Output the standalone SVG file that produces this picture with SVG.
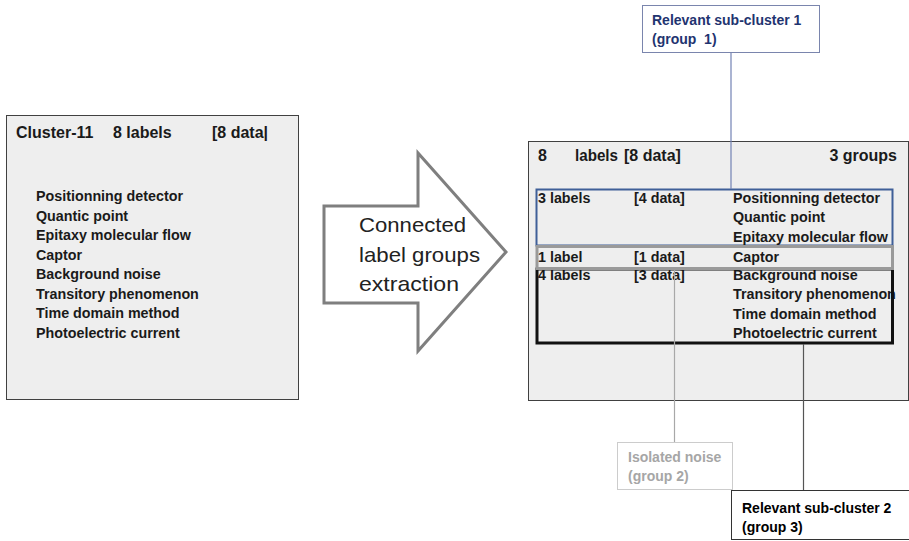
<svg xmlns="http://www.w3.org/2000/svg" width="909" height="541" viewBox="0 0 909 541">
<style>
.t{font-family:"Liberation Sans",Arial,sans-serif;font-weight:bold;font-size:14.3px;fill:#1a1a1a}
.h{font-family:"Liberation Sans",Arial,sans-serif;font-weight:bold;font-size:16px;fill:#1a1a1a}
.a{font-family:"Liberation Sans",Arial,sans-serif;font-size:21px;fill:#222}
.box{fill:#eeeeee;stroke:#404040;stroke-width:1}
</style>
<rect width="909" height="541" fill="#ffffff"/>
<g id="cluster-left">
<rect class="box" x="6.5" y="115.5" width="292" height="284"/>
<text class="h" x="16" y="138">Cluster-11</text>
<text class="h" x="113" y="138">8 labels</text>
<text class="h" x="212" y="138">[8 data|</text>
<text class="t" x="36" y="201">Positionning detector</text>
<text class="t" x="36" y="220.5">Quantic point</text>
<text class="t" x="36" y="240">Epitaxy molecular flow</text>
<text class="t" x="36" y="259.5">Captor</text>
<text class="t" x="36" y="279">Background noise</text>
<text class="t" x="36" y="298.5">Transitory phenomenon</text>
<text class="t" x="36" y="318">Time domain method</text>
<text class="t" x="36" y="337.5">Photoelectric current</text>
</g>
<g id="arrow">
<polygon points="324,206 418,206 418,153 506,252 418,351 418,303 324,303" fill="#ffffff" stroke="#7f7f7f" stroke-width="3" stroke-linejoin="miter"/>
<text class="a" x="359" y="232" textLength="107" lengthAdjust="spacingAndGlyphs">Connected</text>
<text class="a" x="359" y="262" textLength="121" lengthAdjust="spacingAndGlyphs">label groups</text>
<text class="a" x="359" y="291" textLength="100" lengthAdjust="spacingAndGlyphs">extraction</text>
</g>
<g id="cluster-right">
<rect class="box" x="528.5" y="141.5" width="380" height="259"/>
<text class="h" x="538" y="161">8</text>
<text class="h" x="575" y="161" textLength="43" lengthAdjust="spacingAndGlyphs">labels</text>
<text class="h" x="624" y="161">[8 data]</text>
<text class="h" x="897" y="161" text-anchor="end">3 groups</text>
</g>
<g id="group1">
<rect x="536.5" y="189.5" width="356" height="56" fill="none" stroke="#3f5f98" stroke-width="2"/>
<text class="t" x="538" y="203">3 labels</text>
<text class="t" x="634" y="203">[4 data]</text>
<text class="t" x="733" y="203">Positionning detector</text>
<text class="t" x="733" y="222">Quantic point</text>
<text class="t" x="733" y="241.5">Epitaxy molecular flow</text>
</g>
<g id="group3">
<text class="t" x="538" y="280">4 labels</text>
<text class="t" x="634" y="280">[3 data]</text>
<text class="t" x="733" y="280">Background noise</text>
<text class="t" x="733" y="299">Transitory phenomenon</text>
<text class="t" x="733" y="318.5">Time domain method</text>
<text class="t" x="733" y="338">Photoelectric current</text>
<rect x="537" y="269" width="355.5" height="74" fill="none" stroke="#111111" stroke-width="3"/>
</g>
<g id="group2">
<rect x="537" y="246.5" width="355.5" height="22" fill="#eeeeee" stroke="#9a9a9a" stroke-width="3"/>
<text class="t" x="538" y="262">1 label</text>
<text class="t" x="634" y="262">[1 data]</text>
<text class="t" x="733" y="262">Captor</text>
</g>
<g id="connectors">
<line x1="731" y1="53" x2="731" y2="189" stroke="#7282b4" stroke-width="1.2"/>
<line x1="674.5" y1="270" x2="674.5" y2="442" stroke="#a8a8a8" stroke-width="1.2"/>
<line x1="803.5" y1="344" x2="803.5" y2="490" stroke="#555555" stroke-width="1.2"/>
</g>
<g id="sub-cluster-1">
<rect x="642.5" y="5.5" width="177" height="47" fill="#ffffff" stroke="#7a85ad" stroke-width="1"/>
<text class="t" x="652" y="25" style="fill:#1f3470;font-size:14px">Relevant sub-cluster 1</text>
<text class="t" x="652" y="44" style="fill:#1f3470;font-size:14px;white-space:pre">(group  1)</text>
</g>
<g id="isolated-noise">
<rect x="617.5" y="442.5" width="115" height="47" fill="#ffffff" stroke="#cccccc" stroke-width="1"/>
<text class="t" x="628" y="462" style="fill:#a6a6a6;font-size:14px">Isolated noise</text>
<text class="t" x="628" y="481" style="fill:#a6a6a6;font-size:14px">(group 2)</text>
</g>
<g id="sub-cluster-2">
<rect x="731.5" y="490.5" width="190" height="49" fill="#ffffff" stroke="#333333" stroke-width="1"/>
<text class="t" x="742" y="513" style="font-size:14px;fill:#000">Relevant sub-cluster 2</text>
<text class="t" x="742" y="532" style="font-size:14px;fill:#000">(group 3)</text>
</g>
</svg>
